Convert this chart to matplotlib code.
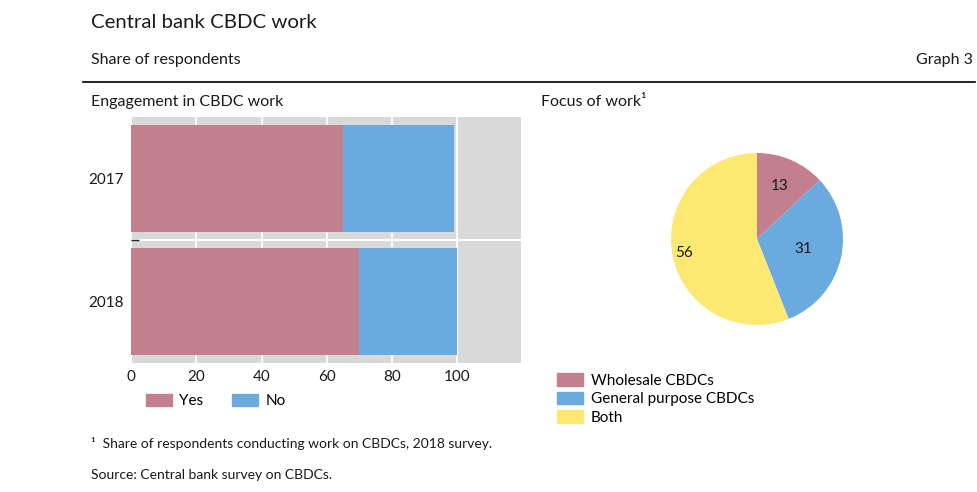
import numpy as np
import matplotlib.pyplot as plt
from matplotlib.patches import Patch

plt.rcParams['font.family'] = ['Lato', 'DejaVu Sans']

# Data
years = ["2017", "2018"]
yes_share = [65, 70]
no_share = [34, 30]

focus_labels = ["Wholesale CBDCs", "General purpose CBDCs", "Both"]
focus_values = [13, 31, 56]

c_yes = "#C27F8D"
c_no = "#6AAADF"
c_both = "#FDE872"
txt = "#1a1a1a"

fig = plt.figure(figsize=(9.78, 4.92), dpi=100)
W, H = 978, 492


def fx(px):
    return px / W


def fy(py):
    return 1 - py / H


# Header
fig.text(fx(91), fy(22), "Central bank CBDC work", fontsize=14.7, color=txt, va="center")
fig.text(fx(91), fy(60), "Share of respondents", fontsize=11.5, color=txt, va="center")
fig.text(fx(973), fy(60), "Graph 3", fontsize=11.5, color=txt, va="center", ha="right")
fig.add_artist(plt.Line2D([fx(83), fx(975)], [fy(82), fy(82)], color="black", lw=1.2))

fig.text(fx(91), fy(102), "Engagement in CBDC work", fontsize=11.5, color=txt, va="center")
fig.text(fx(541), fy(102), "Focus of work¹", fontsize=11.5, color=txt, va="center")

# Bar chart
ax = fig.add_axes([fx(131), fy(363), fx(521) - fx(131), fy(117) - fy(363)])
ax.set_facecolor("#D9D9D9")
y = np.arange(len(years))
ax.barh(y, yes_share, height=0.87, color=c_yes, label="Yes", zorder=3)
ax.barh(y, no_share, left=yes_share, height=0.87, color=c_no, label="No", zorder=3)
ax.set_xlim(0, 119.5)
ax.set_ylim(1.5, -0.5)
ax.set_xticks([0, 20, 40, 60, 80, 100])
ax.set_yticks(y)
ax.set_yticklabels(years)
ax.set_yticks([0.5], minor=True)
ax.grid(axis="x", color="white", lw=1.2, zorder=1)
ax.grid(axis="y", which="minor", color="white", lw=1.5, zorder=1)
ax.tick_params(axis="both", which="major", length=0, labelsize=11, colors=txt, pad=5)
ax.tick_params(axis="y", which="minor", length=6, width=1, color="#222", direction="in")
for s in ax.spines.values():
    s.set_visible(False)
ax.legend(handles=[Patch(color=c_yes, label="Yes"), Patch(color=c_no, label="No")],
          loc="upper left", bbox_to_anchor=(0.022, -0.1), ncol=2, frameon=False,
          fontsize=11, handlelength=1.7, handleheight=0.9, columnspacing=1.9,
          handletextpad=0.5, borderaxespad=0)

# Pie chart
pax = fig.add_axes([fx(657), fy(339), 200 / W, 200 / H])
wedges, _ = pax.pie(focus_values, colors=[c_yes, c_no, c_both], startangle=90,
                    counterclock=False, radius=0.86)
label_r = [0.67, 0.55, 0.87]
for w, v, r in zip(wedges, focus_values, label_r):
    ang = np.deg2rad((w.theta1 + w.theta2) / 2)
    pax.text(0.86 * r * np.cos(ang), 0.86 * r * np.sin(ang), str(v),
             ha="center", va="center", fontsize=11, color=txt)
pax.set_xlim(-1, 1)
pax.set_ylim(-1, 1)
pax.set_aspect("equal")

fig.legend(handles=[Patch(color=c, label=l) for c, l in zip([c_yes, c_no, c_both], focus_labels)],
           loc="upper left", bbox_to_anchor=(fx(551), fy(367)), frameon=False,
           fontsize=11, handlelength=1.7, handleheight=0.9, labelspacing=0.25,
           handletextpad=0.5, borderaxespad=0)

# Footnotes
fig.text(fx(91), fy(443), "¹  Share of respondents conducting work on CBDCs, 2018 survey.",
         fontsize=10, color=txt, va="center")
fig.text(fx(91), fy(475), "Source: Central bank survey on CBDCs.", fontsize=10, color=txt, va="center")

fig.savefig("out.png", dpi=100)
